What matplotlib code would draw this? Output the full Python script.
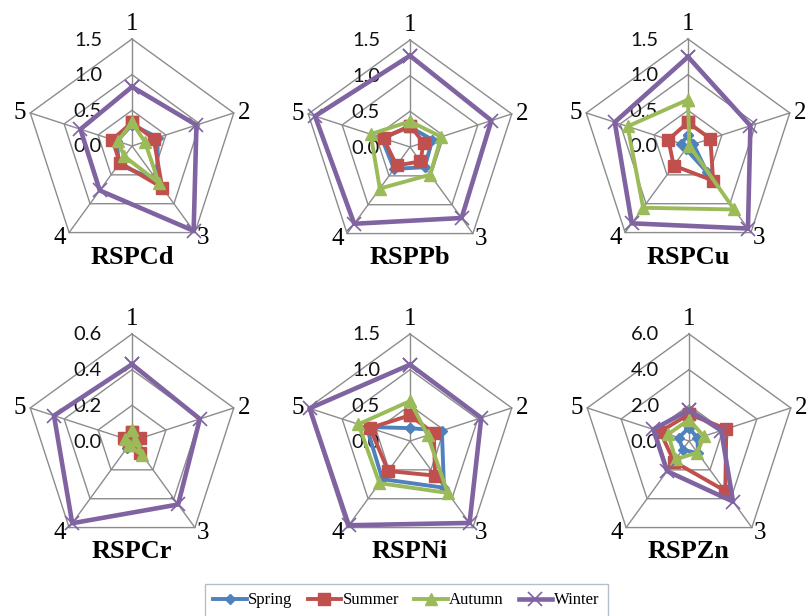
import numpy as np
import matplotlib.pyplot as plt

# axis labels and seasons
categories = ['1', '2', '3', '4', '5']
seasons = ['Spring', 'Summer', 'Autumn', 'Winter']

# values, one list per season, axes 1..5
cd_spring = [0.30, 0.38, 0.60, 0.32, 0.22]
cd_summer = [0.33, 0.32, 0.72, 0.29, 0.29]
cd_autumn = [0.33, 0.19, 0.64, 0.18, 0.21]
cd_winter = [0.83, 0.95, 1.47, 0.77, 0.76]

pb_spring = [0.28, 0.33, 0.35, 0.38, 0.42]
pb_summer = [0.30, 0.20, 0.25, 0.32, 0.39]
pb_autumn = [0.36, 0.46, 0.48, 0.72, 0.58]
pb_winter = [1.28, 1.20, 1.23, 1.33, 1.40]

cu_spring = [0.15, 0.08, 0.45, 0.05, 0.10]
cu_summer = [0.33, 0.33, 0.60, 0.34, 0.29]
cu_autumn = [0.65, 0.02, 1.10, 1.07, 0.89]
cu_winter = [1.25, 0.92, 1.43, 1.34, 1.08]

cr_spring = [0.03, 0.03, 0.03, 0.05, 0.05]
cr_summer = [0.05, 0.05, 0.08, 0.03, 0.05]
cr_autumn = [0.06, 0.02, 0.10, 0.03, 0.04]
cr_winter = [0.43, 0.40, 0.44, 0.57, 0.46]

ni_spring = [0.18, 0.47, 0.81, 0.66, 0.64]
ni_summer = [0.36, 0.35, 0.60, 0.52, 0.59]
ni_autumn = [0.56, 0.26, 0.90, 0.73, 0.76]
ni_winter = [1.07, 1.05, 1.42, 1.46, 1.48]

zn_spring = [0.75, 0.50, 0.85, 0.60, 0.60]
zn_summer = [1.50, 2.20, 3.46, 1.43, 1.70]
zn_autumn = [1.20, 0.87, 0.80, 1.27, 1.23]
zn_winter = [1.74, 1.90, 4.20, 2.09, 2.10]

titles = ['RSPCd', 'RSPPb', 'RSPCu', 'RSPCr', 'RSPNi', 'RSPZn']
ring_ticks = [
    [0.0, 0.5, 1.0, 1.5],
    [0.0, 0.5, 1.0, 1.5],
    [0.0, 0.5, 1.0, 1.5],
    [0.0, 0.2, 0.4, 0.6],
    [0.0, 0.5, 1.0, 1.5],
    [0.0, 2.0, 4.0, 6.0],
]
panel_data = [
    [cd_spring, cd_summer, cd_autumn, cd_winter],
    [pb_spring, pb_summer, pb_autumn, pb_winter],
    [cu_spring, cu_summer, cu_autumn, cu_winter],
    [cr_spring, cr_summer, cr_autumn, cr_winter],
    [ni_spring, ni_summer, ni_autumn, ni_winter],
    [zn_spring, zn_summer, zn_autumn, zn_winter],
]

colors = ['#4F81BD', '#C0504D', '#9BBB59', '#8064A2']
markers = ['D', 's', '^', 'x']
msizes = [5.5, 8, 8.5, 10]
lwidths = [2.8, 2.8, 2.8, 3.3]
grid_color = '#8c8c8c'

W, H = 807, 616
fig = plt.figure(figsize=(W / 100, H / 100), dpi=100)

centers = [(132, 146), (410, 147), (688, 146), (132, 441), (410, 441), (689, 441)]
R = 107

angles = np.linspace(0, 2 * np.pi, len(categories), endpoint=False)
ang_closed = np.append(angles, angles[0])

# label offsets for categories (pixels), ha, va
cat_pos = [((0, 9), 'center', 'baseline'),
           ((4, 0), 'left', 'center'),
           ((2, -5), 'left', 'center'),
           ((-3, -5), 'right', 'center'),
           ((-4, 0), 'right', 'center')]

handles = []
for p, (cx, cy) in enumerate(centers):
    ax = fig.add_axes([(cx - R) / W, 1 - (cy + R) / H, 2 * R / W, 2 * R / H],
                      projection='polar')
    ax.set_theta_zero_location('N')
    ax.set_theta_direction(-1)
    ticks = ring_ticks[p]
    rmax = ticks[-1]
    ax.set_ylim(0, rmax)
    ax.grid(False)
    ax.set_xticks([])
    ax.set_yticks([])
    ax.spines['polar'].set_visible(False)
    ax.patch.set_alpha(0)

    # pentagon grid
    for t in ticks[1:]:
        ax.plot(ang_closed, [t] * len(ang_closed), color=grid_color, lw=1.0,
                clip_on=False, zorder=1)
    for a in angles:
        ax.plot([a, a], [0, rmax], color=grid_color, lw=1.0, clip_on=False, zorder=1)

    # ring labels
    for t in ticks:
        ax.annotate(f'{t:.1f}', xy=(0, t), xytext=(-30, -1), textcoords='offset pixels',
                    ha='right', va='center', fontsize=14.5, family='Lato',
                    color='#111111', zorder=2)

    # category labels
    for a, lab, (off, ha, va) in zip(angles, categories, cat_pos):
        ax.annotate(lab, xy=(a, rmax), xytext=off, textcoords='offset pixels',
                    ha=ha, va=va, fontsize=18, family='Liberation Serif',
                    annotation_clip=False)

    # series
    for s, vals in enumerate(panel_data[p]):
        v = list(vals) + [vals[0]]
        mew = 1.2 if markers[s] == 'x' else 1
        h, = ax.plot(ang_closed, v, color=colors[s], lw=lwidths[s], marker=markers[s],
                     markersize=msizes[s], markeredgewidth=mew, clip_on=False,
                     zorder=3 + s, label=seasons[s])
        if p == 0:
            handles.append(h)

    ax.annotate(titles[p], xy=(0, 0), xytext=(0, -111), textcoords='offset pixels',
                ha='center', va='center', fontsize=19, fontweight='bold',
                family='Liberation Serif', annotation_clip=False)

leg = fig.legend(handles=handles, loc='upper left',
                 bbox_to_anchor=(205 / W, 1 - 584 / H), ncol=4, frameon=True,
                 fancybox=False, borderaxespad=0, handlelength=2.0,
                 handletextpad=0.1, columnspacing=0.9, borderpad=0.5,
                 prop={'family': 'Liberation Serif', 'size': 12})
leg.get_frame().set_edgecolor('#a3aebd')
leg.get_frame().set_linewidth(1.0)

fig.savefig('out.png', dpi=100)
